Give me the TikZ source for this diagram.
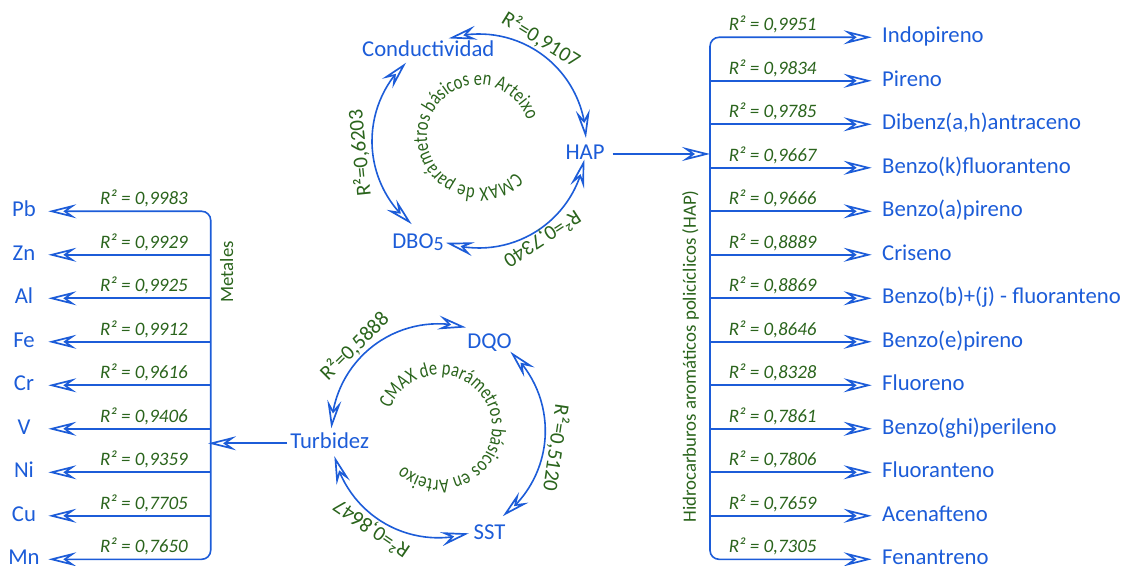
\documentclass[tikz,border=0pt]{standalone}
\usepackage{fontspec}
\setmainfont{Carlito}
\newfontfamily\ringfamily[FakeStretch=0.8]{Carlito}
\usetikzlibrary{arrows.meta,bending,decorations.text}
\definecolor{myblue}{RGB}{28,92,216}
\definecolor{mygreen}{RGB}{42,100,28}
\newcommand{\innerfnt}{\ringfamily\fontsize{20.5}{22}\selectfont\color{mygreen}}
\tikzset{
  conn/.style={draw=myblue, line width=1.6pt},
  item/.style={text=myblue, font=\fontsize{22.7}{26}\selectfont, inner sep=0pt},
  rlab/.style={text=mygreen, font=\fontsize{19}{22}\selectfont\itshape, inner sep=0pt, anchor=base},
  clab/.style={text=mygreen, font=\fontsize{21}{24}\selectfont, inner sep=0pt},
  vlab/.style={text=mygreen, font=\fontsize{18.8}{22}\selectfont, inner sep=0pt, rotate=90},
  ringtext/.style={decorate, decoration={text along path, text align=left}},
}
\begin{document}
\begin{tikzpicture}[x=1pt,y=1pt,>={Stealth[open,length=28pt,width=14pt,inset=10pt,line width=1.7pt]}]
\useasboundingbox (0,0) rectangle (1124,565);

% ---------- right list (HAP) ----------
\coordinate (rtip) at (871.7,0);
\coordinate (rb0) at (710,527.7);
\coordinate (rb1) at (710,484.2);
\coordinate (rb2) at (710,440.7);
\coordinate (rb3) at (710,397.2);
\coordinate (rb4) at (710,353.7);
\coordinate (rb5) at (710,310.2);
\coordinate (rb6) at (710,266.7);
\coordinate (rb7) at (710,223.2);
\coordinate (rb8) at (710,179.7);
\coordinate (rb9) at (710,136.2);
\coordinate (rb10) at (710,92.7);
\coordinate (rb11) at (710,49.2);
\coordinate (rb12) at (710,5.7);

\node[item, anchor=base west] (r0) at (882,522.3) {Indopireno};
\node[item, anchor=base west] (r1) at (882,478.8) {Pireno};
\node[item, anchor=base west] (r2) at (882,435.3) {Dibenz(a,h)antraceno};
\node[item, anchor=base west] (r3) at (882,391.8) {Benzo(k)fluoranteno};
\node[item, anchor=base west] (r4) at (882,348.3) {Benzo(a)pireno};
\node[item, anchor=base west] (r5) at (882,304.8) {Criseno};
\node[item, anchor=base west] (r6) at (882,261.3) {Benzo(b)+(j) - fluoranteno};
\node[item, anchor=base west] (r7) at (882,217.8) {Benzo(e)pireno};
\node[item, anchor=base west] (r8) at (882,174.3) {Fluoreno};
\node[item, anchor=base west] (r9) at (882,130.8) {Benzo(ghi)perileno};
\node[item, anchor=base west] (r10) at (882,87.3) {Fluoranteno};
\node[item, anchor=base west] (r11) at (882,43.8) {Acenafteno};
\node[item, anchor=base west] (r12) at (882,0.3) {Fenantreno};

\node[rlab] (q0) at (772.7,534.3) {R² = 0,9951};
\node[rlab] (q1) at (772.7,490.8) {R² = 0,9834};
\node[rlab] (q2) at (772.7,447.3) {R² = 0,9785};
\node[rlab] (q3) at (772.7,403.8) {R² = 0,9667};
\node[rlab] (q4) at (772.7,360.3) {R² = 0,9666};
\node[rlab] (q5) at (772.7,316.8) {R² = 0,8889};
\node[rlab] (q6) at (772.7,273.3) {R² = 0,8869};
\node[rlab] (q7) at (772.7,229.8) {R² = 0,8646};
\node[rlab] (q8) at (772.7,186.3) {R² = 0,8328};
\node[rlab] (q9) at (772.7,142.8) {R² = 0,7861};
\node[rlab] (q10) at (772.7,99.3) {R² = 0,7806};
\node[rlab] (q11) at (772.7,55.8) {R² = 0,7659};
\node[rlab] (q12) at (772.7,12.3) {R² = 0,7305};

\draw[conn,<->,rounded corners=9pt] (rb0 -| rtip) -- (rb0) -- (rb12) -- (rb12 -| rtip);
\foreach \k in {1,...,11} \draw[conn,->] (rb\k) -- (rb\k -| rtip);

\node[vlab] (hapl) at (690.5,208.5) {Hidrocarburos aromáticos policíclicos (HAP)};

% ---------- left list (Metales) ----------
\coordinate (ltip) at (48.3,0);
\coordinate (lb0) at (210.7,353.7);
\coordinate (lb1) at (210.7,310.2);
\coordinate (lb2) at (210.7,266.7);
\coordinate (lb3) at (210.7,223.2);
\coordinate (lb4) at (210.7,179.7);
\coordinate (lb5) at (210.7,136.2);
\coordinate (lb6) at (210.7,92.7);
\coordinate (lb7) at (210.7,49.2);
\coordinate (lb8) at (210.7,5.7);

\node[item, anchor=base] (m0) at (24,348.2) {Pb};
\node[item, anchor=base] (m1) at (24,304.7) {Zn};
\node[item, anchor=base] (m2) at (24,261.2) {Al};
\node[item, anchor=base] (m3) at (24,217.7) {Fe};
\node[item, anchor=base] (m4) at (24,174.2) {Cr};
\node[item, anchor=base] (m5) at (24,130.7) {V};
\node[item, anchor=base] (m6) at (24,87.2) {Ni};
\node[item, anchor=base] (m7) at (24,43.7) {Cu};
\node[item, anchor=base] (m8) at (24,0.2) {Mn};

\node[rlab] (p0) at (144,360.3) {R² = 0,9983};
\node[rlab] (p1) at (144,316.8) {R² = 0,9929};
\node[rlab] (p2) at (144,273.3) {R² = 0,9925};
\node[rlab] (p3) at (144,229.8) {R² = 0,9912};
\node[rlab] (p4) at (144,186.3) {R² = 0,9616};
\node[rlab] (p5) at (144,142.8) {R² = 0,9406};
\node[rlab] (p6) at (144,99.3) {R² = 0,9359};
\node[rlab] (p7) at (144,55.8) {R² = 0,7705};
\node[rlab] (p8) at (144,12.3) {R² = 0,7650};

\draw[conn,<->,rounded corners=9pt] (lb0 -| ltip) -- (lb0) -- (lb8) -- (lb8 -| ltip);
\foreach \k in {1,...,7} \draw[conn,->] (lb\k) -- (lb\k -| ltip);

\node[vlab] (metl) at (226.7,293) {Metales};

% ---------- top ring ----------
\coordinate (T) at (479,424);
\coordinate (TI) at (478.5,428.5);
\node[item, anchor=base] (cond) at (428.3,508.3) {Conductividad};
\node[item, anchor=base] (hap) at (585,405.7) {HAP};
\node[item, anchor=base] (dbo) at (418,316.7) {DBO\raisebox{-2pt}{\fontsize{20}{20}\selectfont 5}};

\path (T) ++(106.5:107) coordinate (ta1) (T) ++(133:107) coordinate (ta2) (T) ++(252:107) coordinate (ta3);
\draw[conn,<->] (ta1) arc[start angle=106.5, end angle=1.6, radius=107];
\draw[conn,<->] (ta2) arc[start angle=133, end angle=231, radius=107];
\draw[conn,<->] (ta3) arc[start angle=252, end angle=350, radius=107];

\path (T) ++(58.5:119) node[clab, rotate=-31.5] (tl1) {R²=0,9107};
\path (T) ++(185.8:120) node[clab, rotate=95.8] (tl2) {R²=0,6203};
\path (T) ++(303:116.5) node[clab, rotate=213] (tl3) {R²=0,7340};

\path[ringtext, decoration={text={|\innerfnt|CMAX de parámetros básicos en Arteixo}}]
  (TI) ++(-44:51.5) arc[start angle=-44, end angle=-404, radius=51.5];

\coordinate (hapin) at (710,411);
\draw[conn,->,shorten <=8pt] (hap.east |- hapin) -- (hapin);

% ---------- bottom ring ----------
\coordinate (B) at (438.3,134.2);
\coordinate (BI) at (439.5,137.5);
\node[item, anchor=base] (dqo) at (489.5,216.7) {DQO};
\node[item, anchor=base] (turb) at (329.7,116.7) {Turbidez};
\node[item, anchor=base] (sst) at (489.5,25.7) {SST};

\path (B) ++(75:107) coordinate (ba1) (B) ++(47.7:107) coordinate (ba2) (B) ++(193.7:107) coordinate (ba3);
\draw[conn,<->] (ba1) arc[start angle=75, end angle=178.7, radius=107];
\draw[conn,<->] (ba2) arc[start angle=47.7, end angle=-52.9, radius=107];
\draw[conn,<->] (ba3) arc[start angle=193.7, end angle=286.6, radius=107];

\path (B) ++(134.8:119) node[clab, rotate=44.8] (bl1) {R²=0,5888};
\path (B) ++(-8.4:119) node[clab, rotate=-98.4] (bl2) {R²=0,5120};
\path (B) ++(235.7:118.5) node[clab, rotate=145.7] (bl3) {R²=0,8647};

\path[ringtext, decoration={text={|\innerfnt|CMAX de parámetros básicos en Arteixo}}]
  (BI) ++(158.8:52.5) arc[start angle=158.8, end angle=-201.2, radius=52.5];

\coordinate (turbin) at (210.7,121.7);
\draw[conn,->,shorten <=3pt,shorten >=-2.6pt] (turb.west |- turbin) -- (turbin);
\end{tikzpicture}
\end{document}
